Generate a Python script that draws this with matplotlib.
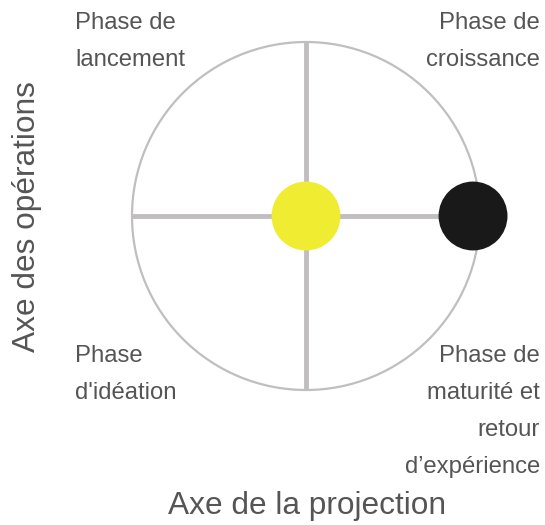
import numpy as np
import matplotlib.pyplot as plt
from matplotlib.patches import Circle

plt.rcParams['font.family'] = ['Liberation Sans', 'DejaVu Sans']

# phases (coin du quadrant)
phases = ["Phase de\nlancement", "Phase de\ncroissance",
          "Phase\nd'idéation", "Phase de\nmaturité et\nretour\nd’expérience"]
# points : position sur l'axe de la projection / des opérations
pts_x = [0.0, 0.96]
pts_y = [0.0, 0.0]
pts_col = ['#f0ec32', '#191919']
xlabel = "Axe de la projection"
ylabel = "Axe des opérations"

W, H = 545, 525
cx, cy, R = 306, 216, 174   # centre du cercle en pixels
fig = plt.figure(figsize=(W / 100, H / 100), dpi=100)
ax = fig.add_axes([0, 0, 1, 1])
ax.set_xlim(-cx / R, (W - cx) / R)
ax.set_ylim(-(H - cy) / R, cy / R)
ax.axis('off')

grey = '#c0bebe'
ax.add_patch(Circle((0, 0), 1, fill=False, ec=grey, lw=1.6, zorder=1))
ax.plot([-1, 1], [0, 0], color=grey, lw=3.5, solid_capstyle='butt', zorder=1)
ax.plot([0, 0], [-1, 1], color=grey, lw=3.5, solid_capstyle='butt', zorder=1)

for x, y, c in zip(pts_x, pts_y, pts_col):
    ax.add_patch(Circle((x, y), 0.198, color=c, ec='none', zorder=3))

tc = '#555555'
fs = 17.2
ls = 1.88
fig.text(75 / W, 1 - 12 / H, phases[0], ha='left', va='top', fontsize=fs, color=tc, linespacing=ls)
fig.text(540 / W, 1 - 12 / H, phases[1], ha='right', va='top', fontsize=fs, color=tc, linespacing=ls)
fig.text(75 / W, 1 - 345 / H, phases[2], ha='left', va='top', fontsize=fs, color=tc, linespacing=ls)
fig.text(540 / W, 1 - 345 / H, phases[3], ha='right', va='top', fontsize=fs, color=tc, linespacing=ls,
         multialignment='right')

fig.text(307 / W, 1 - 506 / H, xlabel, ha='center', va='center', fontsize=22.8, color=tc)
fig.text(27 / W, 1 - 217 / H, ylabel, ha='center', va='center', fontsize=22.8, color=tc, rotation=90)

fig.savefig('out.png', dpi=100)
